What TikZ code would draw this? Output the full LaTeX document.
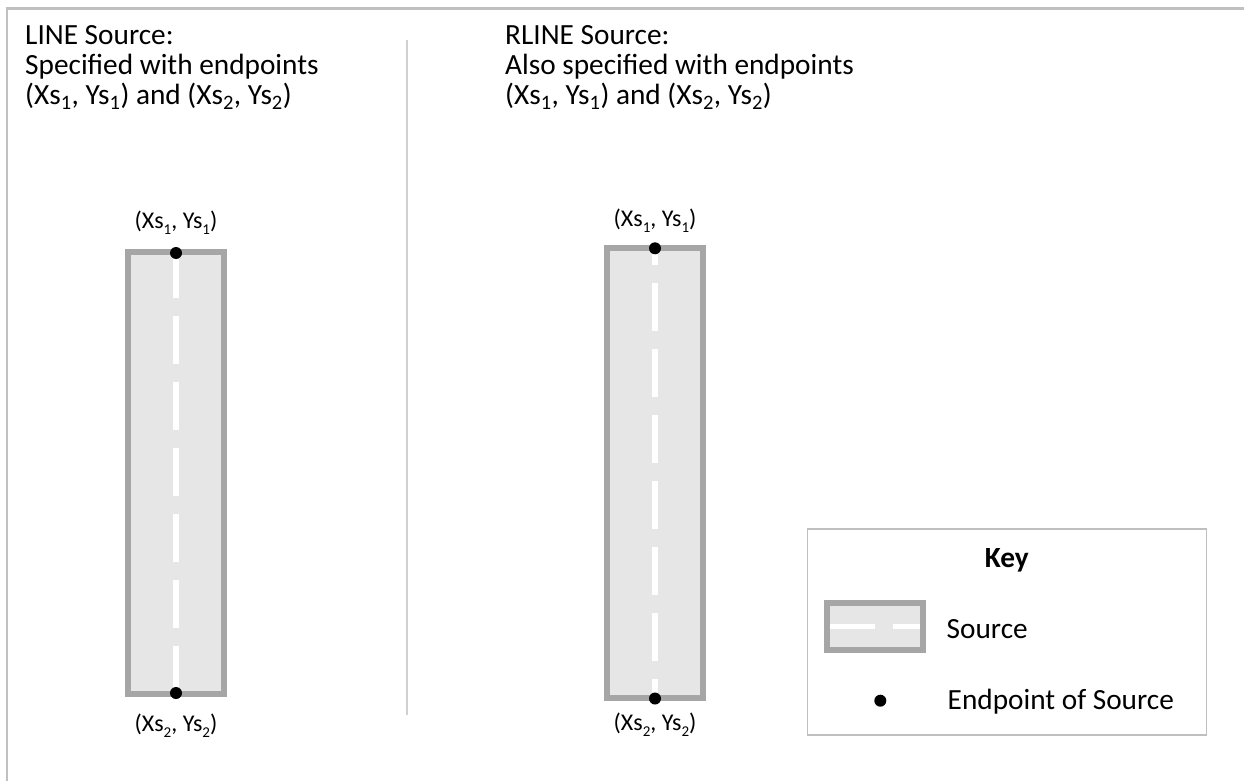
\documentclass[tikz,border=0pt]{standalone}
\usepackage{fontspec}
\setmainfont{Carlito}
\definecolor{frameGray}{HTML}{C0C0C0}
\definecolor{divGray}{HTML}{D0D0D0}
\definecolor{srcBorder}{HTML}{A6A6A6}
\definecolor{srcFill}{HTML}{E6E6E6}
\definecolor{keyBorder}{HTML}{BFBFBF}
\newcommand\lsub[1]{\raisebox{-0.55ex}{\fontsize{15}{15}\selectfont #1}}
\tikzset{
  titletext/.style={anchor=base west, inner sep=0pt, font=\fontsize{29.3}{30}\selectfont},
  labeltext/.style={anchor=base, inner sep=0pt, font=\fontsize{24}{26}\selectfont},
  keytext/.style={anchor=base west, inner sep=0pt, font=\fontsize{29.3}{30}\selectfont},
  srcfill/.style={fill=srcFill, draw=none},
  srcborder/.style={draw=srcBorder, line width=6pt},
  centerline/.style={draw=white, line width=6pt, dash pattern=on 48pt off 18pt},
  endpt/.style={circle, fill=black, inner sep=0pt, minimum size=12pt},
}
\begin{document}
\begin{tikzpicture}[x=1pt, y=-1pt]
\useasboundingbox (0,0) rectangle (1244,781);
% frame
\draw[frameGray, line width=2.2pt] (6.7,781) -- (6.7,8.5) -- (1244,8.5);
% divider
\draw[divGray, line width=1.4pt] (407,40) -- (407,715);

% left titles
\node[titletext] (lt1) at (25,45) {LINE Source:};
\node[titletext] (lt2) at (25,75) {Specified with endpoints};
\node[titletext] (lt3) at (25,105) {(Xs\textsubscript{1}, Ys\textsubscript{1}) and (Xs\textsubscript{2}, Ys\textsubscript{2})};
% right titles
\node[titletext] (rt1) at (505,45) {RLINE Source:};
\node[titletext] (rt2) at (505,75) {Also specified with endpoints};
\node[titletext] (rt3) at (505,105) {(Xs\textsubscript{1}, Ys\textsubscript{1}) and (Xs\textsubscript{2}, Ys\textsubscript{2})};

% left source
\fill[srcfill] (125,249) rectangle (227,697);
\draw[centerline] (176,250) -- (176,697);
\draw[srcborder] (128,252) rectangle (224,694);
\node[endpt] (l1) at (176,253) {};
\node[endpt] (l2) at (176,693) {};
\node[labeltext] (l1lab) at (176,228) {(Xs\lsub{1}, Ys\lsub{1})};
\node[labeltext] (l2lab) at (176,731) {(Xs\lsub{2}, Ys\lsub{2})};

% right source
\fill[srcfill] (603.5,244.5) rectangle (705.5,701);
\draw[centerline, dash phase=32pt] (655,249) -- (655,699);
\draw[srcborder] (606.5,247.5) rectangle (702.5,698);
\node[endpt] (r1) at (655,248.3) {};
\node[endpt] (r2) at (655,698.5) {};
\node[labeltext] (r1lab) at (655,226.5) {(Xs\lsub{1}, Ys\lsub{1})};
\node[labeltext] (r2lab) at (655,730.2) {(Xs\lsub{2}, Ys\lsub{2})};

% key
\draw[keyBorder, line width=1.5pt] (807.3,529) rectangle (1206.3,735);
\node[anchor=base, inner sep=0pt, font=\fontsize{29.3}{30}\selectfont\bfseries] (keyt) at (1006.7,567) {Key};
\fill[srcfill] (824.3,600.3) rectangle (926,653.3);
\draw[draw=white, line width=5pt, dash pattern=on 48pt off 18pt] (827,626.7) -- (923,626.7);
\draw[srcborder] (827.3,603.3) rectangle (923,650.3);
\node[keytext] (ksrc) at (946.5,638.3) {Source};
\node[endpt] (kdot) at (880.3,700.7) {};
\node[keytext] (kend) at (947.5,709.3) {Endpoint of Source};
\end{tikzpicture}
\end{document}
